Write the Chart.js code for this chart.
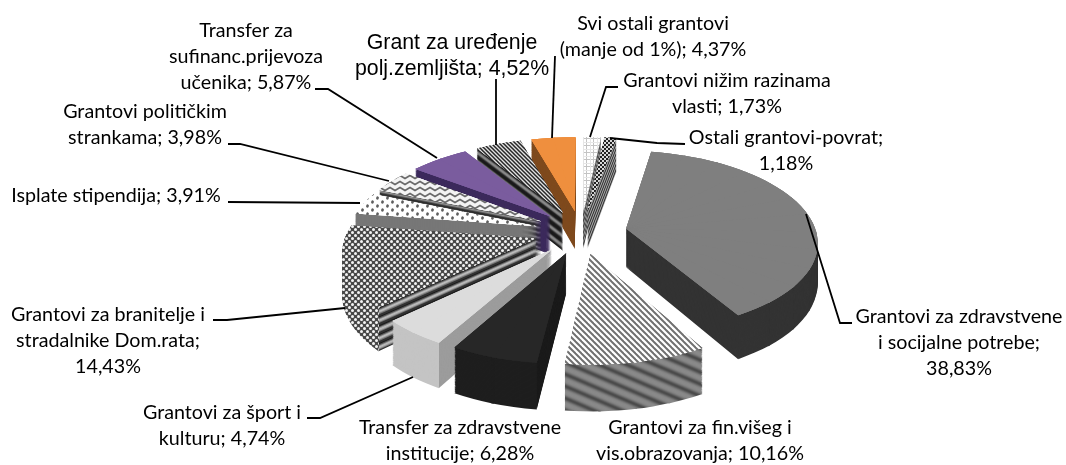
<!DOCTYPE html>
<html>
<head>
<meta charset="utf-8">
<style>
  html, body { margin: 0; padding: 0; background: #fff; }
  canvas { display: block; }
</style>
<script src="https://cdn.jsdelivr.net/npm/chart.js@4/dist/chart.umd.min.js"></script>
</head>
<body>
<canvas id="myChart" width="1066" height="465"></canvas>
<script>
// clockwise from 12 o'clock
var categories = [
  'Grantovi nižim razinama\nvlasti; {v}',
  'Ostali grantovi-povrat;\n{v}',
  'Grantovi za zdravstvene\ni socijalne potrebe;\n{v}',
  'Grantovi za fin.višeg i\nvis.obrazovanja; {v}',
  'Transfer za zdravstvene\ninstitucije; {v}',
  'Grantovi za šport i\nkulturu; {v}',
  'Grantovi za branitelje i\nstradalnike Dom.rata;\n{v}',
  'Isplate stipendija; {v}',
  'Grantovi političkim\nstrankama; {v}',
  'Transfer za\nsufinanc.prijevoza\nučenika; {v}',
  'Grant za uređenje\npolj.zemljišta; {v}',
  'Svi ostali grantovi\n(manje od 1%); {v}'
];
var values = [1.73, 1.18, 38.83, 10.16, 6.28, 4.74, 14.43, 3.91, 3.98, 5.87, 4.52, 4.37];

// label centre x, first line centre y
var labelPos = [
  [727, 81], [786, 138], [959, 317], [700, 428], [460, 428], [222, 413],
  [108, 315], [116, 196], [145, 112], [246, 31], [452, 43], [653, 24]
];
var leaders = [
  [[618, 87], [606, 87], [590, 137]],
  [[685, 144], [657, 143], [610, 138]],
  [[806, 214], [840, 323], [852, 323]],
  [], [],
  [[307, 418], [320, 418], [413, 377]],
  [[213, 320], [227, 320], [345, 308]],
  [[228, 202], [360, 203]],
  [[228, 144], [240, 144], [389, 181]],
  [[315, 89], [328, 89], [437, 158]],
  [[496, 79], [496, 145]],
  [[555, 56], [552, 138]]
];

// fake camera for the 3d look
var cam = { cx: 581, cy: 232, R: 190, k: 0.47, persp: 0.135, explode: 46, depth: 39 };
var subArc = 12 * Math.PI / 180;

function project(X, Y, z) {
  var s = 1 / (1 - cam.persp * Y / cam.R);
  return { x: cam.cx + X * s, y: cam.cy + Y * cam.k * s + z * s };
}

function tile(w, h, paint) {
  var c = document.createElement('canvas');
  c.width = w; c.height = h;
  var g = c.getContext('2d');
  paint(g, w, h);
  return c;
}

function stripeTile(w, h, bg, fg, lw, blur) {
  return tile(w, h, function (g) {
    g.fillStyle = bg; g.fillRect(0, 0, w, h);
    g.strokeStyle = fg; g.lineWidth = lw;
    if (blur) g.filter = 'blur(' + blur + 'px)';
    for (var i = -1; i <= 1; i++) {
      g.beginPath();
      g.moveTo(-w, -h + i * h); g.lineTo(2 * w, 2 * h + i * h);
      g.stroke();
    }
  });
}

var ctxMain = document.getElementById('myChart').getContext('2d');
function pat(canvas) { return ctxMain.createPattern(canvas, 'repeat'); }

var patterns = {
  grid: pat(tile(7, 7, function (g) {
    g.fillStyle = '#fff'; g.fillRect(0, 0, 7, 7);
    g.fillStyle = '#c4c4c4'; g.fillRect(0, 5, 7, 1); g.fillRect(5, 0, 1, 7);
    g.fillStyle = '#e6e6e6'; g.fillRect(0, 2, 7, 1); g.fillRect(2, 0, 1, 7);
  })),
  check: pat(tile(4, 4, function (g) {
    g.fillStyle = '#d8d8d8'; g.fillRect(0, 0, 4, 4);
    g.fillStyle = '#222'; g.fillRect(0, 0, 2, 2); g.fillRect(2, 2, 2, 2);
  })),
  diag: pat(stripeTile(6, 6, '#fff', '#707070', 2)),
  diagWall: pat(stripeTile(28, 12, '#8a8a8a', '#2e2e2e', 3, 1.6)),
  hex: pat(tile(6, 6, function (g) {
    g.fillStyle = '#484848'; g.fillRect(0, 0, 6, 6);
    g.fillStyle = '#f4f4f4';
    [[1.5, 1.5], [4.5, 4.5]].forEach(function (p) {
      g.beginPath(); g.arc(p[0], p[1], 1.5, 0, 6.3); g.fill();
    });
  })),
  dots: pat(tile(10, 8, function (g) {
    g.fillStyle = '#fff'; g.fillRect(0, 0, 10, 8);
    g.fillStyle = '#5e5e5e';
    [[2.5, 2], [7.5, 6]].forEach(function (p) {
      g.beginPath(); g.ellipse(p[0], p[1], 1.3, 1.7, 0.3, 0, 6.3); g.fill();
    });
  })),
  zigzag: pat(tile(10, 6, function (g) {
    g.fillStyle = '#f4f4f4'; g.fillRect(0, 0, 10, 6);
    g.strokeStyle = '#6a6a6a'; g.lineWidth = 1.6;
    g.beginPath(); g.moveTo(-5, 3.5); g.lineTo(0, 1.5); g.lineTo(5, 4.5); g.lineTo(10, 1.5); g.lineTo(15, 4.5); g.stroke();
  })),
  hatch: pat(stripeTile(4, 4, '#e2e2e2', '#262626', 1.5))
};

var bandsDark = ['#1a1a1a', '#1a1a1a', '#333', '#666', '#8a8a8a', '#8a8a8a', '#777', '#444', '#222', '#1a1a1a'];
var bandsThin = ['#222', '#555', '#999', '#bbb', '#888', '#444'];
var bandsHex = ['#333', '#1c1c1c', '#555', '#9a9a9a', '#c0c0c0', '#aaa', '#777', '#333'];

var sliceStyles = [
  { top: patterns.grid, radial: bandsThin, outer: '#999' },
  { top: patterns.check, radial: bandsThin, outer: '#777' },
  { top: '#7f7f7f', radial: '#333333', outer: '#333333' },
  { top: patterns.diag, radial: patterns.diagWall, outer: patterns.diagWall },
  { top: '#272727', radial: '#1b1b1b', outer: '#1e1e1e' },
  { top: '#dcdcdc', radial: '#9c9c9c', outer: '#c4c4c4' },
  { top: patterns.hex, radial: bandsHex, outer: patterns.hex },
  { top: patterns.dots, radial: '#777777', outer: '#777777' },
  { top: patterns.zigzag, radial: ['#2a2a2a', '#555', '#999', '#666', '#333'], outer: '#555' },
  { top: '#7a5c9e', radial: '#3c2a5c', outer: '#3c2a5c' },
  { top: patterns.hatch, radial: bandsDark, outer: '#222' },
  { top: '#ef8f3e', radial: '#7f4a1e', outer: '#7f4a1e' }
];

// matrix taking a piece (a1..a2) of the arc's canvas space to its place on screen
function pieceMatrix(arc, mid, a1, a2, z) {
  var R = arc.outerRadius;
  var ex = cam.explode * Math.cos(mid), ey = cam.explode * Math.sin(mid);
  var d0 = project(ex, ey, z);
  var d1 = project(ex + cam.R * Math.cos(a1), ey + cam.R * Math.sin(a1), z);
  var d2 = project(ex + cam.R * Math.cos(a2), ey + cam.R * Math.sin(a2), z);
  var ux = R * Math.cos(a1), uy = R * Math.sin(a1);
  var vx = R * Math.cos(a2), vy = R * Math.sin(a2);
  var det = ux * vy - uy * vx;
  var ax = d1.x - d0.x, ay = d1.y - d0.y, bx = d2.x - d0.x, by = d2.y - d0.y;
  var m = {
    a: (ax * vy - bx * uy) / det,
    c: (bx * ux - ax * vx) / det,
    b: (ay * vy - by * uy) / det,
    d: (by * ux - ay * vx) / det
  };
  m.e = d0.x - m.a * arc.x - m.c * arc.y;
  m.f = d0.y - m.b * arc.x - m.d * arc.y;
  return new DOMMatrix([m.a, m.b, m.c, m.d, m.e, m.f]);
}

// affine only works for small pieces, so long arcs get chopped up
function paintArc(ctx, arc, base, fill, z) {
  var a1 = arc.startAngle, a2 = arc.endAngle, mid = (a1 + a2) / 2;
  var n = Math.max(1, Math.ceil((a2 - a1) / subArc));
  var step = (a2 - a1) / n;
  for (var i = 0; i < n; i++) {
    var s = a1 + i * step, e = s + step;
    var m = pieceMatrix(arc, mid, s, e, z);
    ctx.setTransform(m);
    if (fill instanceof CanvasPattern) fill.setTransform(m.inverse());
    arc.options = Object.assign({}, base, { backgroundColor: fill, borderWidth: 0, borderColor: 'transparent' });
    arc.startAngle = s;
    arc.endAngle = i < n - 1 ? e + 0.012 : e;
    arc.circumference = arc.endAngle - s;
    arc.draw(ctx);
  }
  arc.startAngle = a1; arc.endAngle = a2; arc.circumference = a2 - a1;
}

function wallFill(style, z) {
  return Array.isArray(style) ? style[z % style.length] : style;
}

function drawSlice(ctx, arc, style) {
  var base = arc.options;
  var a1 = arc.startAngle, a2 = arc.endAngle, mid = (a1 + a2) / 2;
  var rightSide = Math.cos(mid) > 0;
  // the cut face the viewer can see ends at this rim corner
  var edge = rightSide ? a2 : a1;
  var ex = cam.explode * Math.cos(mid), ey = cam.explode * Math.sin(mid);
  var corner = project(ex + cam.R * Math.cos(edge), ey + cam.R * Math.sin(edge), 0);

  [style.radial, style.outer].forEach(function (wall, i) {
    var leftPart = (i === 0) === rightSide;
    ctx.save();
    ctx.setTransform(1, 0, 0, 1, 0, 0);
    ctx.beginPath();
    if (leftPart) ctx.rect(0, 0, corner.x, 465);
    else ctx.rect(corner.x, 0, 1066 - corner.x, 465);
    ctx.clip();
    for (var z = cam.depth; z >= 1; z--) paintArc(ctx, arc, base, wallFill(wall, z), z);
    ctx.restore();
  });
  // three coats, otherwise the joins between pieces show near the apex
  for (var coat = 0; coat < 3; coat++) paintArc(ctx, arc, base, style.top, 0);
  arc.options = base;
  ctx.setTransform(1, 0, 0, 1, 0, 0);
}

function formatValue(v) {
  return v.toFixed(2).replace('.', ',') + '%';
}

var pie3d = {
  id: 'pie3d',
  beforeDatasetsDraw: function (chart) {
    var ctx = chart.ctx;
    var arcs = chart.getDatasetMeta(0).data;
    var order = arcs.map(function (a, i) { return i; });
    function depthOf(i) { return Math.sin((arcs[i].startAngle + arcs[i].endAngle) / 2); }
    order.sort(function (p, q) { return depthOf(p) - depthOf(q); });
    ctx.save();
    // patterns stay in screen space, nearest sampling keeps the pieces lined up
    ctx.imageSmoothingEnabled = false;
    order.forEach(function (i) { drawSlice(ctx, arcs[i], sliceStyles[i]); });
    ctx.restore();

    // leader lines
    ctx.save();
    ctx.strokeStyle = '#000';
    ctx.lineWidth = 1.8;
    leaders.forEach(function (pts) {
      if (!pts.length) return;
      ctx.beginPath();
      pts.forEach(function (p, j) { if (j) ctx.lineTo(p[0], p[1]); else ctx.moveTo(p[0], p[1]); });
      ctx.stroke();
    });
    // labels
    ctx.fillStyle = '#000';
    ctx.textAlign = 'center';
    ctx.textBaseline = 'middle';
    categories.forEach(function (name, i) {
      var big = name.indexOf('Grant za') === 0;
      ctx.font = big ? '21.3px "Liberation Sans"' : '19.7px Lato';
      var lines = name.replace('{v}', formatValue(values[i])).split('\n');
      lines.forEach(function (line, j) {
        ctx.fillText(line, labelPos[i][0], labelPos[i][1] + j * 26);
      });
    });
    ctx.restore();
    return false;
  }
};

var myChart = new Chart(ctxMain, {
  type: 'pie',
  data: {
    labels: categories,
    datasets: [{ data: values, backgroundColor: '#888', borderWidth: 0 }]
  },
  options: {
    responsive: false,
    animation: false,
    plugins: { legend: { display: false }, tooltip: { enabled: false } }
  },
  plugins: [pie3d]
});
</script>
</body>
</html>
